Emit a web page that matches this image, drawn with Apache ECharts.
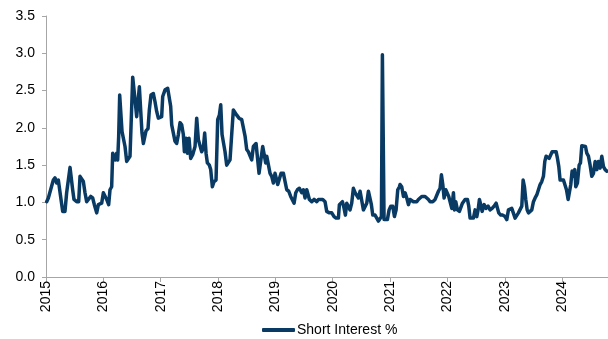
<!DOCTYPE html>
<html>
<head>
<meta charset="utf-8">
<script src="https://cdn.jsdelivr.net/npm/echarts@6/dist/echarts.min.js"></script>
<style>
  html, body { margin: 0; padding: 0; background: #fff; }
  #chart { width: 608px; height: 339px; }
</style>
</head>
<body>
<div id="chart"></div>
<script>
// Observation times as decimal years
const dates = [
  2015.012, 2015.041, 2015.070, 2015.099, 2015.128, 2015.157, 2015.186, 2015.215, 2015.244, 2015.262,
  2015.291, 2015.331, 2015.360, 2015.390, 2015.419, 2015.448, 2015.465, 2015.488, 2015.535, 2015.570,
  2015.593, 2015.622, 2015.651, 2015.680, 2015.709, 2015.738, 2015.779, 2015.814, 2015.843, 2015.884,
  2015.913, 2015.942, 2015.971, 2016.000, 2016.029, 2016.058, 2016.093, 2016.116, 2016.145, 2016.163,
  2016.186, 2016.209, 2016.233, 2016.250, 2016.267, 2016.285, 2016.308, 2016.326, 2016.349, 2016.378,
  2016.407, 2016.436, 2016.465, 2016.488, 2016.512, 2016.535, 2016.564, 2016.581, 2016.605, 2016.628,
  2016.651, 2016.674, 2016.698, 2016.721, 2016.744, 2016.779, 2016.802, 2016.831, 2016.872, 2016.901,
  2016.930, 2016.959, 2016.988, 2017.017, 2017.035, 2017.076, 2017.122, 2017.151, 2017.174, 2017.192,
  2017.221, 2017.250, 2017.279, 2017.308, 2017.337, 2017.366, 2017.395, 2017.413, 2017.442, 2017.465,
  2017.494, 2017.523, 2017.558, 2017.599, 2017.628, 2017.657, 2017.686, 2017.715, 2017.744, 2017.767,
  2017.791, 2017.814, 2017.849, 2017.872, 2017.901, 2017.930, 2017.965, 2017.994, 2018.023, 2018.047,
  2018.070, 2018.093, 2018.122, 2018.151, 2018.180, 2018.209, 2018.238, 2018.267, 2018.297, 2018.326,
  2018.366, 2018.413, 2018.442, 2018.471, 2018.500, 2018.529, 2018.558, 2018.587, 2018.616, 2018.663,
  2018.686, 2018.715, 2018.744, 2018.779, 2018.808, 2018.831, 2018.849, 2018.878, 2018.907, 2018.936,
  2018.965, 2018.994, 2019.023, 2019.041, 2019.070, 2019.099, 2019.140, 2019.169, 2019.198, 2019.233,
  2019.267, 2019.297, 2019.326, 2019.355, 2019.384, 2019.419, 2019.442, 2019.459, 2019.488, 2019.517,
  2019.547, 2019.576, 2019.593, 2019.634, 2019.674, 2019.721, 2019.750, 2019.779, 2019.826, 2019.866,
  2019.895, 2019.942, 2019.983, 2020.023, 2020.058, 2020.099, 2020.116, 2020.145, 2020.169, 2020.198,
  2020.221, 2020.244, 2020.273, 2020.302, 2020.331, 2020.360, 2020.390, 2020.419, 2020.448, 2020.477,
  2020.506, 2020.535, 2020.564, 2020.593, 2020.622, 2020.651, 2020.674, 2020.698, 2020.738, 2020.767,
  2020.797, 2020.826, 2020.849, 2020.866, 2020.884, 2020.895, 2020.924, 2020.953, 2020.983, 2021.012,
  2021.047, 2021.076, 2021.105, 2021.134, 2021.163, 2021.174, 2021.203, 2021.233, 2021.262, 2021.291,
  2021.320, 2021.349, 2021.378, 2021.407, 2021.465, 2021.494, 2021.523, 2021.552, 2021.581, 2021.610,
  2021.640, 2021.669, 2021.698, 2021.744, 2021.785, 2021.814, 2021.843, 2021.872, 2021.895, 2021.919,
  2021.942, 2021.971, 2022.000, 2022.023, 2022.047, 2022.076, 2022.105, 2022.122, 2022.145, 2022.174,
  2022.209, 2022.233, 2022.262, 2022.308, 2022.349, 2022.372, 2022.395, 2022.424, 2022.453, 2022.483,
  2022.512, 2022.535, 2022.558, 2022.581, 2022.605, 2022.640, 2022.674, 2022.709, 2022.744, 2022.779,
  2022.814, 2022.849, 2022.872, 2022.895, 2022.930, 2022.965, 2023.006, 2023.035, 2023.064, 2023.093,
  2023.122, 2023.151, 2023.180, 2023.209, 2023.238, 2023.267, 2023.297, 2023.320, 2023.343, 2023.366,
  2023.390, 2023.413, 2023.442, 2023.471, 2023.500, 2023.529, 2023.558, 2023.587, 2023.616, 2023.645,
  2023.674, 2023.698, 2023.721, 2023.744, 2023.773, 2023.802, 2023.826, 2023.860, 2023.895, 2023.919,
  2023.942, 2023.965, 2023.994, 2024.023, 2024.052, 2024.076, 2024.105, 2024.128, 2024.151, 2024.174,
  2024.198, 2024.221, 2024.238, 2024.267, 2024.297, 2024.320, 2024.343, 2024.372, 2024.407, 2024.430,
  2024.459, 2024.488, 2024.517, 2024.547, 2024.576, 2024.605, 2024.634, 2024.663, 2024.692, 2024.721,
  2024.750, 2024.779
];

// Short interest, % of shares outstanding
const shortInterest = [
  1.01, 1.06, 1.08, 1.22, 1.30, 1.33, 1.26, 1.30, 1.28, 1.04,
  0.88, 0.88, 1.13, 1.13, 1.47, 1.46, 1.17, 1.04, 1.01, 1.01,
  1.35, 1.33, 1.28, 1.13, 1.01, 1.01, 1.08, 1.06, 0.97, 0.86,
  0.97, 0.99, 0.99, 1.13, 1.13, 1.04, 0.97, 1.17, 1.21, 1.66,
  1.68, 1.57, 1.66, 1.57, 1.88, 2.44, 2.42, 1.95, 1.93, 1.75,
  1.55, 1.53, 1.62, 1.62, 2.68, 2.67, 2.29, 2.15, 2.13, 2.55,
  2.53, 1.93, 1.79, 1.77, 1.96, 1.99, 2.24, 2.44, 2.46, 2.35,
  2.22, 2.13, 2.13, 2.15, 2.42, 2.51, 2.53, 2.51, 2.29, 2.04,
  2.02, 1.82, 1.79, 1.91, 2.07, 2.04, 1.91, 1.68, 1.86, 1.66,
  1.86, 1.59, 1.64, 1.75, 2.13, 1.84, 1.82, 1.68, 1.73, 1.93,
  1.66, 1.53, 1.50, 1.44, 1.21, 1.28, 1.30, 2.11, 2.17, 2.31,
  1.91, 1.89, 1.68, 1.50, 1.50, 1.57, 1.91, 2.24, 2.26, 2.17,
  2.13, 2.11, 2.11, 1.89, 1.71, 1.68, 1.66, 1.57, 1.75, 1.79,
  1.79, 1.39, 1.37, 1.75, 1.75, 1.53, 1.62, 1.62, 1.39, 1.35,
  1.26, 1.39, 1.37, 1.24, 1.26, 1.39, 1.39, 1.28, 1.17, 1.15,
  1.08, 1.06, 0.99, 1.13, 1.17, 1.19, 1.17, 1.13, 1.17, 1.06,
  1.17, 1.19, 1.04, 1.01, 1.04, 1.01, 1.04, 1.05, 1.04, 1.01,
  0.88, 0.86, 0.86, 0.81, 0.79, 0.79, 0.97, 0.99, 1.01, 0.92,
  0.83, 0.99, 0.97, 0.90, 0.99, 1.19, 1.13, 1.15, 1.06, 1.15,
  1.13, 0.90, 0.90, 0.99, 1.15, 1.15, 0.97, 0.83, 0.83, 0.83,
  0.75, 0.75, 0.81, 2.98, 2.98, 0.77, 0.79, 0.77, 0.90, 0.95,
  0.95, 0.81, 0.90, 1.17, 1.21, 1.24, 1.21, 1.08, 1.13, 1.06,
  0.97, 1.04, 1.04, 1.01, 1.01, 1.04, 1.06, 1.08, 1.06, 1.08,
  1.08, 1.04, 1.01, 1.01, 1.04, 1.04, 1.15, 1.19, 1.37, 1.24,
  1.06, 1.17, 1.17, 1.08, 1.06, 0.92, 1.13, 0.90, 1.01, 0.90,
  0.88, 0.90, 0.99, 1.04, 1.04, 0.95, 0.79, 0.79, 0.79, 0.90,
  0.81, 0.90, 1.04, 0.97, 0.88, 0.97, 0.92, 0.95, 0.90, 0.92,
  0.95, 0.99, 1.01, 0.86, 0.83, 0.83, 0.81, 0.77, 0.90, 0.90,
  0.92, 0.92, 0.79, 0.81, 0.86, 0.88, 0.95, 1.30, 1.21, 1.04,
  0.90, 0.86, 0.86, 0.90, 1.01, 1.06, 1.10, 1.17, 1.24, 1.28,
  1.35, 1.55, 1.62, 1.64, 1.59, 1.59, 1.68, 1.68, 1.68, 1.59,
  1.48, 1.30, 1.28, 1.30, 1.28, 1.17, 1.04, 1.04, 1.24, 1.42,
  1.35, 1.44, 1.21, 1.26, 1.50, 1.53, 1.76, 1.77, 1.75, 1.66,
  1.62, 1.50, 1.35, 1.39, 1.55, 1.44, 1.55, 1.46, 1.62, 1.48,
  1.44, 1.42
];

const yTicks = ['0.0', '0.5', '1.0', '1.5', '2.0', '2.5', '3.0', '3.5'];
const seriesName = 'Short Interest %';

const chart = echarts.init(document.getElementById('chart'), null, { renderer: 'canvas' });
const font = 'Liberation Sans, Arial, sans-serif';
const axisGrey = '#A6A6A6';
const lineColor = '#083A63';

chart.setOption({
  animation: false,
  backgroundColor: '#ffffff',
  grid: { left: 46, right: 0, top: 16, bottom: 62, containLabel: false },
  legend: {
    data: [seriesName],
    left: 262,
    top: 323,
    padding: 0,
    icon: 'roundRect',
    itemWidth: 33,
    itemHeight: 4,
    textStyle: { fontFamily: font, fontSize: 14, color: '#000', padding: [0, 0, 0, -3] }
  },
  xAxis: {
    type: 'value',
    min: 2015,
    max: 2024.8,
    interval: 1,
    splitLine: { show: false },
    axisLine: { show: true, lineStyle: { color: axisGrey, width: 1 } },
    axisTick: { show: true, inside: false, length: 5, lineStyle: { color: axisGrey } },
    axisLabel: {
      rotate: 90,
      margin: 4,
      showMaxLabel: false,
      fontFamily: font,
      fontSize: 14,
      color: '#000',
      formatter: v => (Math.abs(v - Math.round(v)) < 1e-6 ? String(Math.round(v)) : '')
    }
  },
  yAxis: {
    type: 'value',
    min: 0,
    max: 3.5,
    interval: 0.5,
    splitLine: { show: false },
    axisLine: { show: true, lineStyle: { color: axisGrey, width: 1 } },
    axisTick: { show: true, length: 4, lineStyle: { color: axisGrey } },
    axisLabel: {
      margin: 11,
      fontFamily: font,
      fontSize: 14,
      color: '#000',
      formatter: v => yTicks[Math.round(v / 0.5)]
    }
  },
  series: [{
    name: seriesName,
    type: 'line',
    data: dates.map((d, i) => [d, shortInterest[i]]),
    showSymbol: false,
    symbol: 'none',
    clip: true,
    lineStyle: { color: lineColor, width: 3.5, join: 'round', cap: 'round' },
    itemStyle: { color: lineColor }
  }]
});
</script>
</body>
</html>
